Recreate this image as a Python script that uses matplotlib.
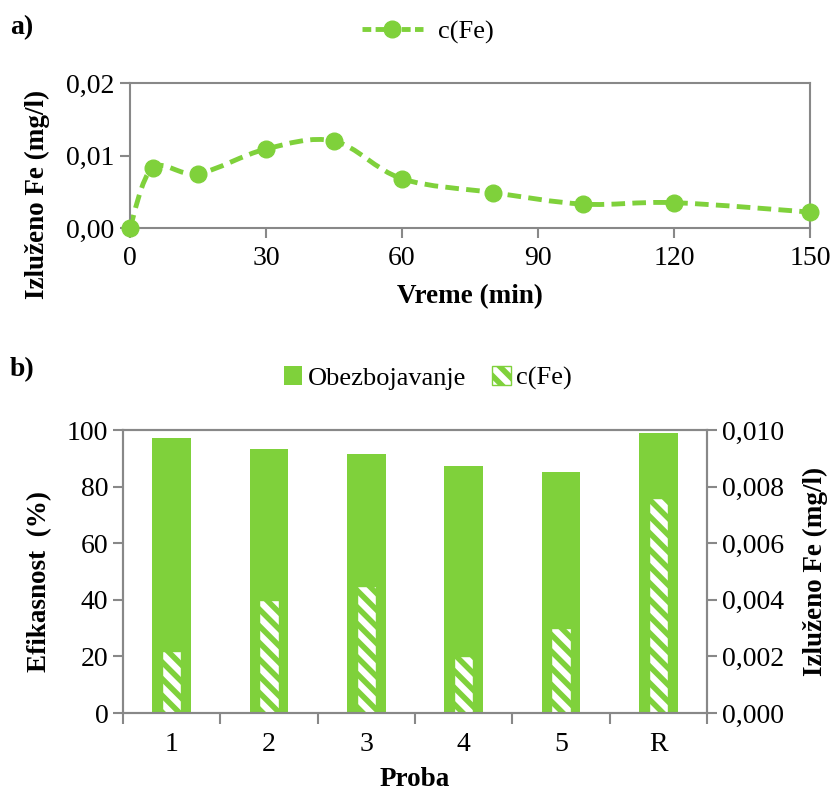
import numpy as np
import matplotlib
matplotlib.use('Agg')
import matplotlib.pyplot as plt
from matplotlib.path import Path
from matplotlib.patches import PathPatch, Patch
from matplotlib.lines import Line2D
from matplotlib.ticker import FuncFormatter, FixedLocator

##data, panel a)
vreme = [0, 5, 15, 30, 45, 60, 80, 100, 120, 150]
fe_t = [0.0, 0.0083, 0.0075, 0.0109, 0.0120, 0.0068, 0.0049, 0.0033, 0.0035, 0.0022]

##data, panel b)
probe = ['1', '2', '3', '4', '5', 'R']
obezbojavanje = [97.2, 93.3, 91.5, 87.3, 85.2, 98.9]
fe_b = [0.0022, 0.0040, 0.0045, 0.0020, 0.0030, 0.0076]

green = '#7FD13B'
grey = '#888888'
plt.rcParams['font.family'] = 'Liberation Serif'
plt.rcParams['hatch.linewidth'] = 4.0
fs = 20      # tick labels
fl = 19      # legends
fb = 19.5    # bold axis titles

fig = plt.figure(figsize=(8.31, 7.94), dpi=100)

def style(ax):
    for s in ax.spines.values():
        s.set_color(grey)
        s.set_linewidth(1.5)
    ax.tick_params(colors=grey, labelcolor='black', labelsize=fs,
                   width=1.5, length=7, direction='out')

def comma(fmt):
    return FuncFormatter(lambda v, p: (fmt % v).replace('.', ','))

##panel a)
ax1 = fig.add_axes([0.1564, 0.7128, 0.8183, 0.1826])
style(ax1)
ax1.set_xlim(0, 150)
ax1.set_ylim(0, 0.02)
ax1.set_xticks([0, 30, 60, 90, 120, 150])
ax1.set_yticks([0, 0.01, 0.02])
ax1.yaxis.set_major_formatter(comma('%.2f'))
ax1.tick_params(axis='x', pad=6)
ax1.tick_params(axis='y', pad=4)

##smoothed line like the spreadsheet (Catmull-Rom bezier through the points)
P = np.column_stack([vreme, fe_t])
verts = [P[0]]
codes = [Path.MOVETO]
for i in range(len(P) - 1):
    p0 = P[max(i - 1, 0)]
    p1 = P[i]
    p2 = P[i + 1]
    p3 = P[min(i + 2, len(P) - 1)]
    verts += [p1 + (p2 - p0) / 6.0, p2 - (p3 - p1) / 6.0, p2]
    codes += [Path.CURVE4] * 3
ax1.add_patch(PathPatch(Path(verts, codes), fill=False, edgecolor=green,
                        lw=3.5, linestyle=(0, (2.8, 1.5)), clip_on=False))
ax1.plot(vreme, fe_t, 'o', color=green, ms=12, clip_on=False, zorder=3)

ax1.set_xlabel('Vreme (min)', fontsize=fb, fontweight='bold', va='top')
ax1.xaxis.set_label_coords(0.5, -0.39)
ax1.set_ylabel('Izluženo Fe (mg/l)', fontsize=fb, fontweight='bold')
ax1.yaxis.set_label_coords(-0.118, 0.23)

h1 = Line2D([], [], color=green, lw=3.5, linestyle=(0, (1.8, 0.9)),
            marker='o', ms=12)
fig.legend([h1], ['c(Fe)'], loc='center', bbox_to_anchor=(0.515, 1 - 32 / 794),
           frameon=False, fontsize=fl, handlelength=2.3, handletextpad=0.6)
fig.text(0.012, 1 - 28 / 794, 'a)', fontsize=20, fontweight='bold', va='center')

##panel b)
ax2 = fig.add_axes([0.148, 0.1020, 0.7028, 0.3564])
ax3 = ax2.twinx()
style(ax2)
style(ax3)
x = np.arange(len(probe))
ax2.bar(x, obezbojavanje, width=0.4, color=green, zorder=2)
ax3.bar(x, fe_b, width=0.2, facecolor='white', edgecolor=green,
        hatch='\\\\', lw=1, zorder=2)
ax2.set_xlim(-0.5, len(probe) - 0.5)
ax2.set_ylim(0, 100)
ax2.set_yticks(range(0, 101, 20))
ax3.set_ylim(0, 0.010)
ax3.set_yticks(np.arange(0, 0.0101, 0.002))
ax3.yaxis.set_major_formatter(comma('%.3f'))
ax2.set_xticks(x)
ax2.set_xticklabels(probe)
ax2.tick_params(axis='x', which='major', length=0, pad=14)
ax2.xaxis.set_minor_locator(FixedLocator(np.arange(-0.5, len(probe), 1.0)))
ax2.tick_params(axis='x', which='minor', length=8, width=1.5, color=grey)

ax2.set_xlabel('Proba', fontsize=fb, fontweight='bold', va='top')
ax2.xaxis.set_label_coords(0.5, -0.19)
ax2.set_ylabel('Efikasnost  (%)', fontsize=fb, fontweight='bold')
ax2.yaxis.set_label_coords(-0.121, 0.463)
ax3.set_ylabel('Izluženo Fe (mg/l)', fontsize=fb, fontweight='bold',
               rotation=90, va='top')
ax3.yaxis.set_label_coords(1.164, 0.5)

h2 = Patch(facecolor=green)
h3 = Patch(facecolor='white', edgecolor=green, hatch='\\\\', lw=1)
fig.legend([h2, h3], ['Obezbojavanje', 'c(Fe)'], loc='center',
           bbox_to_anchor=(0.515, 1 - 378 / 794), ncol=2, frameon=False,
           fontsize=fl, handlelength=0.7, handleheight=0.7,
           handletextpad=0.2, columnspacing=1.0)
fig.text(0.012, 1 - 370 / 794, 'b)', fontsize=20, fontweight='bold', va='center')

fig.savefig('out.png', dpi=100)
